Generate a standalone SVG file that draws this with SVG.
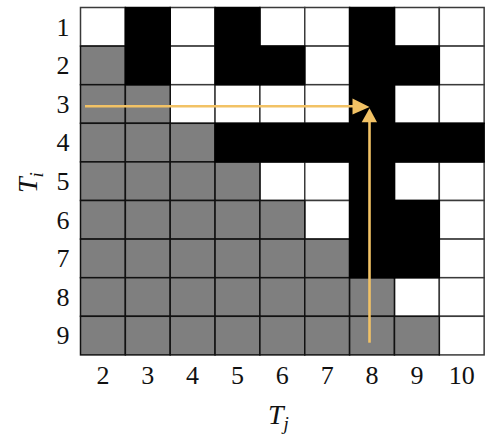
<svg xmlns="http://www.w3.org/2000/svg" width="487" height="437" viewBox="0 0 487 437">
<style>
.w{fill:#fff;stroke:#3a3a3a;stroke-width:1.5}
.g{fill:#7f7f7f;stroke:#111;stroke-width:1.5}
.b{fill:#000;stroke:#000;stroke-width:1.5}
.lab{font-family:"Liberation Serif",serif;font-size:26px;fill:#111;text-anchor:middle}
.ax{font-family:"Liberation Serif",serif;font-style:italic;fill:#111}
.arr{stroke:#F2C265;stroke-width:2.6;fill:none}
.head{fill:#F2C265}
</style>
<rect width="487" height="437" fill="#fff"/>
<g id="grid">
<g id="white-cells">
<rect class="w" x="80.5" y="7.5" width="44.85" height="38.6"/>
<rect class="w" x="170.2" y="7.5" width="44.85" height="38.6"/>
<rect class="w" x="259.9" y="7.5" width="44.85" height="38.6"/>
<rect class="w" x="304.75" y="7.5" width="44.85" height="38.6"/>
<rect class="w" x="394.45" y="7.5" width="44.85" height="38.6"/>
<rect class="w" x="439.3" y="7.5" width="44.85" height="38.6"/>
<rect class="w" x="170.2" y="46.1" width="44.85" height="38.6"/>
<rect class="w" x="304.75" y="46.1" width="44.85" height="38.6"/>
<rect class="w" x="439.3" y="46.1" width="44.85" height="38.6"/>
<rect class="w" x="170.2" y="84.7" width="44.85" height="38.6"/>
<rect class="w" x="215.05" y="84.7" width="44.85" height="38.6"/>
<rect class="w" x="259.9" y="84.7" width="44.85" height="38.6"/>
<rect class="w" x="304.75" y="84.7" width="44.85" height="38.6"/>
<rect class="w" x="394.45" y="84.7" width="44.85" height="38.6"/>
<rect class="w" x="439.3" y="84.7" width="44.85" height="38.6"/>
<rect class="w" x="259.9" y="161.9" width="44.85" height="38.6"/>
<rect class="w" x="304.75" y="161.9" width="44.85" height="38.6"/>
<rect class="w" x="394.45" y="161.9" width="44.85" height="38.6"/>
<rect class="w" x="439.3" y="161.9" width="44.85" height="38.6"/>
<rect class="w" x="304.75" y="200.5" width="44.85" height="38.6"/>
<rect class="w" x="439.3" y="200.5" width="44.85" height="38.6"/>
<rect class="w" x="439.3" y="239.1" width="44.85" height="38.6"/>
<rect class="w" x="394.45" y="277.7" width="44.85" height="38.6"/>
<rect class="w" x="439.3" y="277.7" width="44.85" height="38.6"/>
<rect class="w" x="439.3" y="316.3" width="44.85" height="38.6"/>
</g>
<g id="gray-cells">
<rect class="g" x="80.5" y="46.1" width="44.85" height="38.6"/>
<rect class="g" x="80.5" y="84.7" width="44.85" height="38.6"/>
<rect class="g" x="125.35" y="84.7" width="44.85" height="38.6"/>
<rect class="g" x="80.5" y="123.3" width="44.85" height="38.6"/>
<rect class="g" x="125.35" y="123.3" width="44.85" height="38.6"/>
<rect class="g" x="170.2" y="123.3" width="44.85" height="38.6"/>
<rect class="g" x="80.5" y="161.9" width="44.85" height="38.6"/>
<rect class="g" x="125.35" y="161.9" width="44.85" height="38.6"/>
<rect class="g" x="170.2" y="161.9" width="44.85" height="38.6"/>
<rect class="g" x="215.05" y="161.9" width="44.85" height="38.6"/>
<rect class="g" x="80.5" y="200.5" width="44.85" height="38.6"/>
<rect class="g" x="125.35" y="200.5" width="44.85" height="38.6"/>
<rect class="g" x="170.2" y="200.5" width="44.85" height="38.6"/>
<rect class="g" x="215.05" y="200.5" width="44.85" height="38.6"/>
<rect class="g" x="259.9" y="200.5" width="44.85" height="38.6"/>
<rect class="g" x="80.5" y="239.1" width="44.85" height="38.6"/>
<rect class="g" x="125.35" y="239.1" width="44.85" height="38.6"/>
<rect class="g" x="170.2" y="239.1" width="44.85" height="38.6"/>
<rect class="g" x="215.05" y="239.1" width="44.85" height="38.6"/>
<rect class="g" x="259.9" y="239.1" width="44.85" height="38.6"/>
<rect class="g" x="304.75" y="239.1" width="44.85" height="38.6"/>
<rect class="g" x="80.5" y="277.7" width="44.85" height="38.6"/>
<rect class="g" x="125.35" y="277.7" width="44.85" height="38.6"/>
<rect class="g" x="170.2" y="277.7" width="44.85" height="38.6"/>
<rect class="g" x="215.05" y="277.7" width="44.85" height="38.6"/>
<rect class="g" x="259.9" y="277.7" width="44.85" height="38.6"/>
<rect class="g" x="304.75" y="277.7" width="44.85" height="38.6"/>
<rect class="g" x="349.6" y="277.7" width="44.85" height="38.6"/>
<rect class="g" x="80.5" y="316.3" width="44.85" height="38.6"/>
<rect class="g" x="125.35" y="316.3" width="44.85" height="38.6"/>
<rect class="g" x="170.2" y="316.3" width="44.85" height="38.6"/>
<rect class="g" x="215.05" y="316.3" width="44.85" height="38.6"/>
<rect class="g" x="259.9" y="316.3" width="44.85" height="38.6"/>
<rect class="g" x="304.75" y="316.3" width="44.85" height="38.6"/>
<rect class="g" x="349.6" y="316.3" width="44.85" height="38.6"/>
<rect class="g" x="394.45" y="316.3" width="44.85" height="38.6"/>
</g>
<g id="black-cells">
<rect class="b" x="125.35" y="7.5" width="44.85" height="77.2"/>
<rect class="b" x="215.05" y="7.5" width="44.85" height="77.2"/>
<rect class="b" x="259.9" y="46.1" width="44.85" height="38.6"/>
<rect class="b" x="349.6" y="7.5" width="44.85" height="270.2"/>
<rect class="b" x="394.45" y="46.1" width="44.85" height="38.6"/>
<rect class="b" x="215.05" y="123.3" width="269.1" height="38.6"/>
<rect class="b" x="394.45" y="200.5" width="44.85" height="77.2"/>
</g>
</g>
<g id="row-labels" class="lab">
<text x="63" y="35.5">1</text>
<text x="63" y="74.1">2</text>
<text x="63" y="112.7">3</text>
<text x="63" y="151.3">4</text>
<text x="63" y="189.9">5</text>
<text x="63" y="228.5">6</text>
<text x="63" y="267.1">7</text>
<text x="63" y="305.7">8</text>
<text x="63" y="344.3">9</text>
</g>
<g id="col-labels" class="lab">
<text x="102.9" y="384">2</text>
<text x="147.8" y="384">3</text>
<text x="192.6" y="384">4</text>
<text x="237.5" y="384">5</text>
<text x="282.3" y="384">6</text>
<text x="327.2" y="384">7</text>
<text x="372" y="384">8</text>
<text x="416.9" y="384">9</text>
<text x="461.7" y="384">10</text>
</g>
<g id="axis-labels">
<text class="ax" x="268" y="424" font-size="28">T<tspan font-size="19" dy="6">j</tspan></text>
<text class="ax" transform="translate(37,193) rotate(-90)" font-size="28">T<tspan font-size="19" dy="6">i</tspan></text>
</g>
<g id="connectors">
<line class="arr" x1="85" y1="106.3" x2="356" y2="106.3"/>
<polygon class="head" points="352.5,98.5 369.5,107 352.5,114.5"/>
<line class="arr" x1="369.5" y1="342.7" x2="369.5" y2="119"/>
<polygon class="head" points="361.7,122.3 369.5,108.3 377,122.3"/>
</g>
</svg>
